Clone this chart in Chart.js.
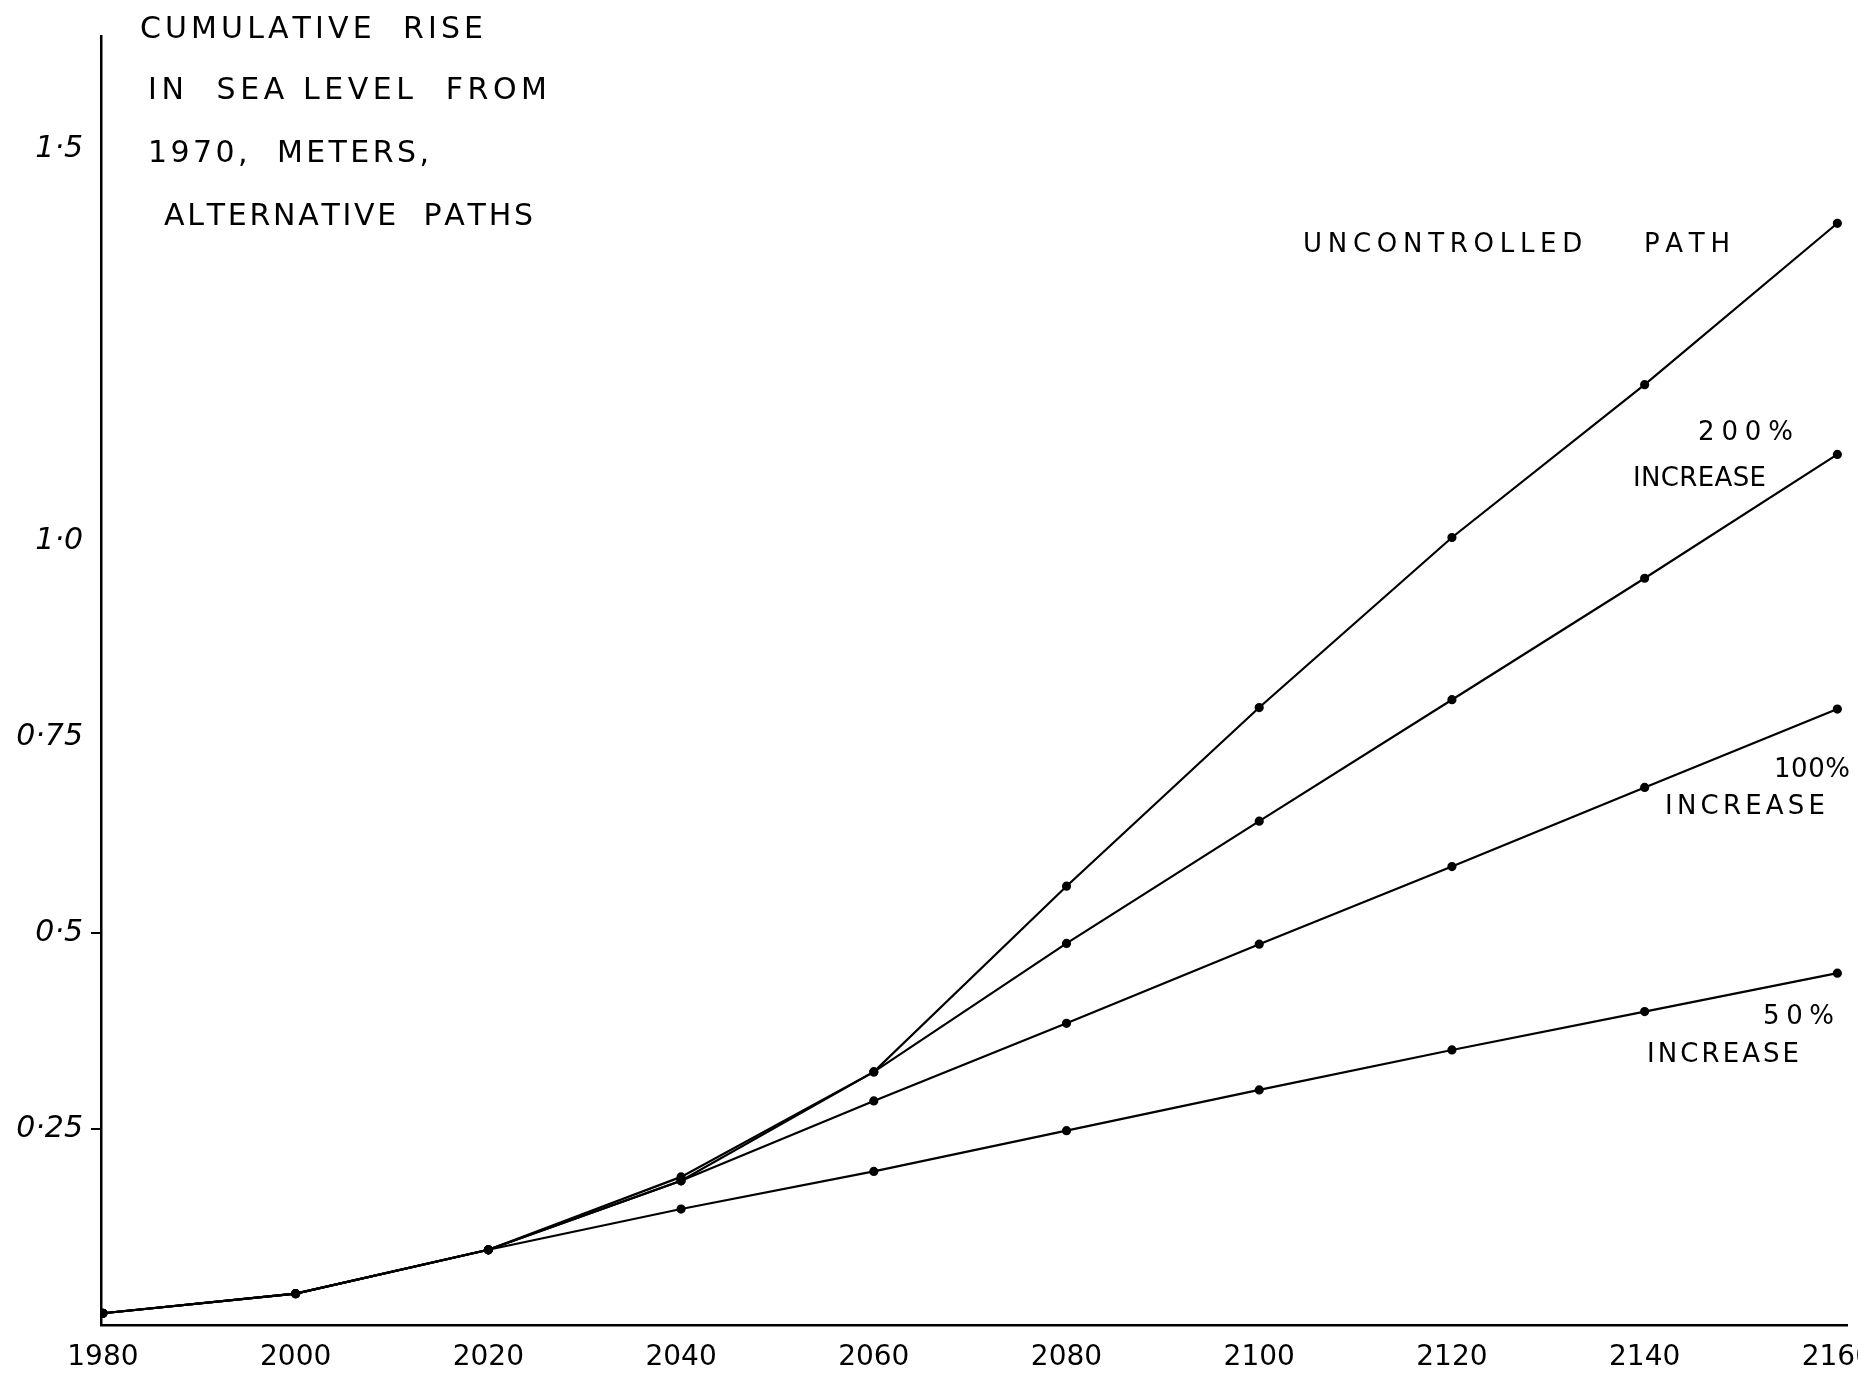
<!DOCTYPE html>
<html>
<head>
<meta charset="utf-8">
<script src="https://cdn.jsdelivr.net/npm/chart.js@4/dist/chart.umd.min.js"></script>
<style>
  html, body { margin: 0; padding: 0; background: #ffffff; }
  #wrap { width: 1858px; height: 1374px; }
</style>
</head>
<body>
<div id="wrap"><canvas id="c" width="1858" height="1374"></canvas></div>
<script>
// ---- data ----
const years = [1980, 2000, 2020, 2040, 2060, 2080, 2100, 2120, 2140, 2160];
const uncontrolled = [0.015, 0.040, 0.096, 0.189, 0.323, 0.560, 0.788, 1.005, 1.200, 1.406];
const increase200 = [0.015, 0.040, 0.096, 0.184, 0.323, 0.487, 0.643, 0.798, 0.953, 1.111];
const increase100 = [0.015, 0.040, 0.096, 0.184, 0.286, 0.385, 0.486, 0.585, 0.686, 0.786];
const increase50  = [0.015, 0.040, 0.096, 0.148, 0.196, 0.248, 0.300, 0.351, 0.400, 0.449];
const yTickValues = [0.25, 0.5, 0.75, 1.0, 1.5];
const yTickLabels = ['0·25', '0·5', '0·75', '1·0', '1·5'];
const xTickLabels = ['1980', '2000', '2020', '2040', '2060', '2080', '2100', '2120', '2140', '2160'];
const titleLines = ['CUMULATIVE  RISE', 'IN  SEA LEVEL  FROM', '1970,  METERS,', 'ALTERNATIVE  PATHS'];
const seriesLabels = ['UNCONTROLLED    PATH', '200%', '100%', '50%', 'INCREASE'];

function pts(vals) { return years.map((y, i) => ({ x: y, y: vals[i] })); }

function ds(label, vals) {
  return {
    label: label,
    data: pts(vals),
    borderColor: '#000000',
    backgroundColor: '#000000',
    borderWidth: 2.2,
    pointRadius: 3.5,
    pointHoverRadius: 3.5,
    pointBackgroundColor: '#000000',
    pointBorderColor: '#000000',
    tension: 0
  };
}

function drawFit(ctx, text, x1, x2, cy) {
  const chars = Array.from(text);
  let natural = 0;
  chars.forEach(c => { natural += ctx.measureText(c).width; });
  const sp = chars.length > 1 ? ((x2 - x1) - natural) / (chars.length - 1) : 0;
  let x = x1;
  chars.forEach(c => {
    ctx.fillText(c, x, cy);
    x += ctx.measureText(c).width + sp;
  });
}

const annotations = {
  id: 'annotations',
  afterDraw(chart) {
    const ctx = chart.ctx;
    ctx.save();
    ctx.fillStyle = '#000000';
    ctx.textBaseline = 'middle';
    ctx.textAlign = 'left';
    ctx.font = '30px "DejaVu Sans", sans-serif';
    drawFit(ctx, titleLines[0], 140, 483, 30);
    drawFit(ctx, titleLines[1], 148, 547, 91);
    drawFit(ctx, titleLines[2], 148, 429, 154);
    drawFit(ctx, titleLines[3], 164, 533, 217);

    ctx.font = '26px "DejaVu Sans", sans-serif';
    drawFit(ctx, seriesLabels[0], 1303, 1730, 245);
    drawFit(ctx, seriesLabels[1], 1698, 1793, 433);
    drawFit(ctx, seriesLabels[4], 1633, 1766, 479);
    drawFit(ctx, seriesLabels[2], 1774, 1850, 770);
    drawFit(ctx, seriesLabels[4], 1665, 1825, 807);
    drawFit(ctx, seriesLabels[3], 1763, 1834, 1017);
    drawFit(ctx, seriesLabels[4], 1647, 1799, 1055);
    ctx.restore();
  }
};

new Chart(document.getElementById('c'), {
  type: 'line',
  data: {
    datasets: [
      ds('Uncontrolled path', uncontrolled),
      ds('200% increase', increase200),
      ds('100% increase', increase100),
      ds('50% increase', increase50)
    ]
  },
  options: {
    responsive: false,
    devicePixelRatio: 1,
    animation: false,
    layout: { padding: { left: 0, right: 11, top: 36, bottom: 0 } },
    plugins: {
      legend: { display: false },
      title: { display: false },
      tooltip: { enabled: false }
    },
    scales: {
      x: {
        type: 'linear',
        min: 1979.8,
        max: 2161,
        afterBuildTicks: (scale) => {
          scale.ticks = years.map(v => ({ value: v }));
        },
        ticks: {
          color: '#000000',
          font: { family: '"DejaVu Sans", sans-serif', size: 28 },
          padding: 16,
          maxRotation: 0,
          autoSkip: false,
          callback: (v) => {
            const i = years.indexOf(v);
            return i >= 0 ? xTickLabels[i] : '';
          }
        },
        grid: { display: false, drawTicks: false },
        border: { display: true, color: '#000000', width: 2.5 },
        afterFit: (scale) => {
          scale.height = 49;
          scale.paddingLeft = 0;
          scale.paddingRight = 0;
        }
      },
      y: {
        type: 'linear',
        min: 0,
        max: 1.645,
        afterBuildTicks: (scale) => {
          scale.ticks = yTickValues.map(v => ({ value: v }));
        },
        ticks: {
          color: '#000000',
          font: { family: '"DejaVu Sans", sans-serif', size: 30, style: 'italic' },
          padding: 8,
          autoSkip: false,
          callback: (v) => {
            const i = yTickValues.indexOf(v);
            return i >= 0 ? yTickLabels[i] : '';
          }
        },
        grid: {
          display: true,
          drawOnChartArea: false,
          drawTicks: true,
          tickLength: 10,
          lineWidth: 2,
          color: (c) => (c.tick && (c.tick.value === 0.5 || c.tick.value === 0.25)) ? '#000000' : 'rgba(0,0,0,0)'
        },
        border: { display: true, color: '#000000', width: 2.5 },
        afterFit: (scale) => {
          scale.width = 101;
          scale.paddingTop = 0;
          scale.paddingBottom = 0;
        }
      }
    }
  },
  plugins: [annotations]
});
</script>
</body>
</html>
